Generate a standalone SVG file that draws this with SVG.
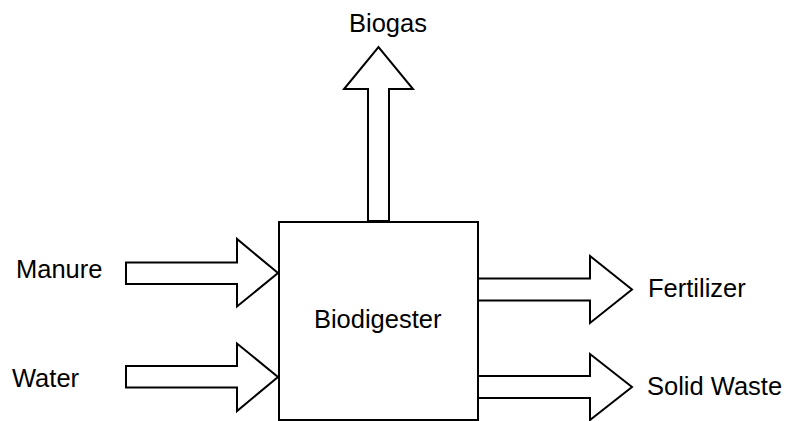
<svg xmlns="http://www.w3.org/2000/svg" width="788" height="421" viewBox="0 0 788 421">
<style>
.shape{fill:#ffffff;stroke:#000000;stroke-width:2;stroke-linejoin:miter}
.lbl{font-family:"Liberation Sans",Arial,Helvetica,sans-serif;font-size:25.5px;fill:#000000}
</style>
<rect x="0" y="0" width="788" height="421" fill="#ffffff"/>
<g id="connectors">
<polygon class="shape" points="368,221 368,89 344,89 378.5,47 413,89 389,89 389,221"/>
<polygon class="shape" points="126,262.5 237,262.5 237,239 278,273 237,306.5 237,284 126,284"/>
<polygon class="shape" points="126,366 237,366 237,343.5 278,377 237,411 237,387.5 126,387.5"/>
<polygon class="shape" points="478,278.5 590,278.5 590,256 632,289.5 590,323 590,300.5 478,300.5"/>
<polygon class="shape" points="478,376 590,376 590,354 632,387 590,420 590,398 478,398"/>
</g>
<g id="biodigester">
<rect class="shape" x="279" y="222" width="199" height="198"/>
<text class="lbl" x="377.7" y="328" text-anchor="middle">Biodigester</text>
</g>
<g id="biogas"><text class="lbl" x="388" y="32" text-anchor="middle">Biogas</text></g>
<g id="manure"><text class="lbl" x="16" y="278">Manure</text></g>
<g id="water"><text class="lbl" x="12" y="387">Water</text></g>
<g id="fertilizer"><text class="lbl" x="648" y="297">Fertilizer</text></g>
<g id="solidwaste"><text class="lbl" x="647" y="395">Solid Waste</text></g>
</svg>
